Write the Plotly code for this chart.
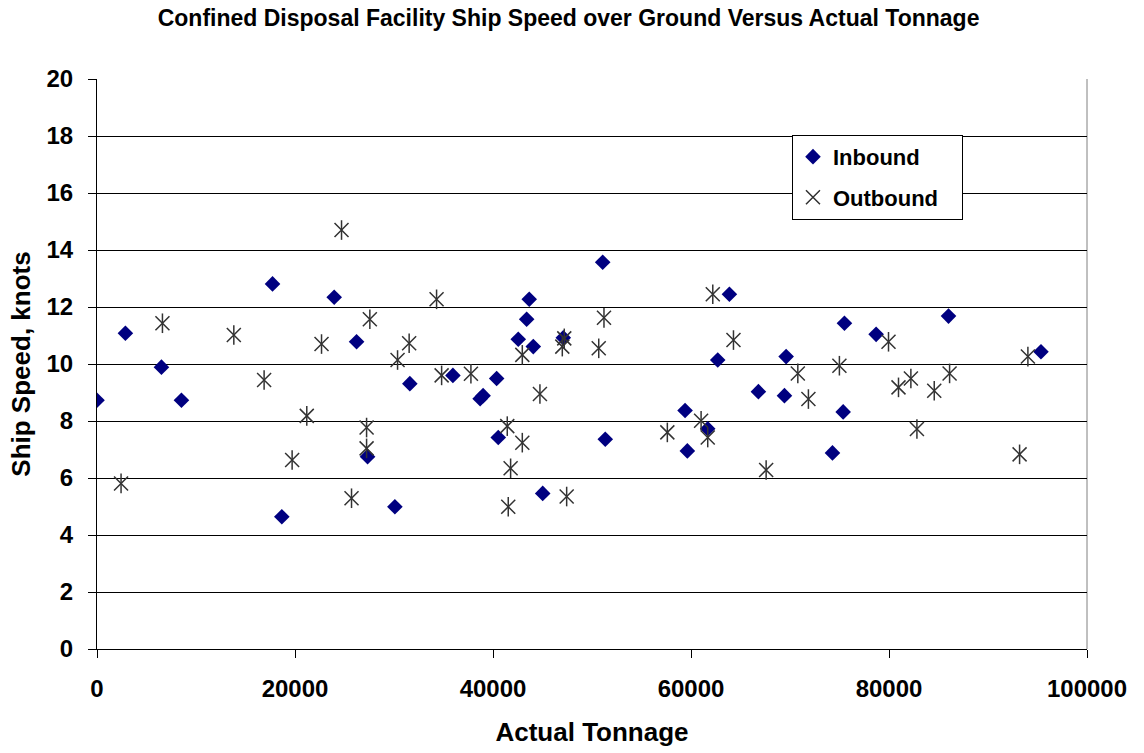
import plotly.graph_objects as go

# Inbound: actual tonnage, ship speed (knots)
inbound_tonnage = [0, 2870, 6510, 8530, 17730, 18670, 23960, 26220, 27330, 30090,
                   31600, 35950, 38700, 39000, 40370, 40530, 42550, 43400, 43660, 44070,
                   45020, 47100, 51080, 51340, 59400, 59630, 61690, 62700, 63880, 66810,
                   69440, 69610, 74290, 75370, 75500, 78700, 86010, 95350]
inbound_speed = [8.73, 11.08, 9.89, 8.73, 12.81, 4.64, 12.34, 10.78, 6.75, 4.99,
                 9.31, 9.60, 8.78, 8.89, 9.49, 7.42, 10.87, 11.57, 12.27, 10.61,
                 5.46, 10.92, 13.57, 7.36, 8.37, 6.95, 7.73, 10.14, 12.45, 9.03,
                 8.89, 10.26, 6.88, 8.32, 11.43, 11.04, 11.68, 10.43]

# Outbound: actual tonnage, ship speed (knots)
outbound_tonnage = [2430, 6610, 13820, 16880, 19710, 21190, 22680, 24700, 25710, 27230,
                    27230, 27560, 30360, 31530, 34300, 34810, 37770, 41440, 41540, 41780,
                    42960, 42960, 44740, 47000, 47200, 47440, 50680, 51210, 57610, 61020,
                    61690, 62200, 64290, 67590, 70790, 71860, 74990, 79950, 80960, 82210,
                    82820, 84570, 86120, 93190, 94030]
outbound_speed = [5.81, 11.43, 11.02, 9.44, 6.63, 8.18, 10.70, 14.70, 5.29, 7.77,
                  7.04, 11.57, 10.14, 10.73, 12.27, 9.60, 9.66, 7.82, 4.99, 6.34,
                  10.32, 7.24, 8.95, 10.61, 10.90, 5.35, 10.55, 11.62, 7.60, 8.01,
                  7.42, 12.45, 10.84, 6.28, 9.67, 8.77, 9.94, 10.78, 9.18, 9.49,
                  7.72, 9.06, 9.67, 6.83, 10.26]

x_ticks = [0, 20000, 40000, 60000, 80000, 100000]
y_ticks = [0, 2, 4, 6, 8, 10, 12, 14, 16, 18, 20]

FONT = "Liberation Sans, Arial, sans-serif"
STAR = "#333333"

fig = go.Figure()
fig.add_trace(go.Scatter(
    x=inbound_tonnage, y=inbound_speed, mode="markers", name="<b>Inbound</b>",
    legendgroup="in",
    marker=dict(symbol="diamond", size=12, color="#000080", line=dict(width=0)),
))
fig.add_trace(go.Scatter(
    x=outbound_tonnage, y=outbound_speed, mode="markers",
    name="<b>Outbound</b>&nbsp;&nbsp;&nbsp;",
    legendgroup="out",
    marker=dict(symbol="x-thin-open", size=14, color=STAR, line=dict(width=1.5, color=STAR)),
))
fig.add_trace(go.Scatter(
    x=outbound_tonnage, y=outbound_speed, mode="markers", showlegend=False,
    legendgroup="out", hoverinfo="skip",
    marker=dict(symbol="line-ns-open", size=14, color=STAR, line=dict(width=1.5, color=STAR)),
))

fig.update_layout(
    width=1144, height=753,
    margin=dict(l=97, r=57, t=79, b=104),
    paper_bgcolor="white", plot_bgcolor="white",
    font=dict(family=FONT, color="black"),
    title=dict(text="<b>Confined Disposal Facility Ship Speed over Ground Versus Actual Tonnage</b>",
               x=0.497, xanchor="center", y=0.976, yanchor="middle",
               font=dict(size=23, family=FONT, color="black")),
    showlegend=True,
    legend=dict(x=0.702, y=0.902, xanchor="left", yanchor="top",
                bgcolor="white", bordercolor="black", borderwidth=1,
                font=dict(size=22, family=FONT, color="black"),
                tracegroupgap=9),
    shapes=[dict(type="line", xref="paper", yref="paper", x0=1, x1=1, y0=0, y1=1,
                 line=dict(color="#808080", width=1), layer="below")],
)

fig.update_xaxes(
    range=[0, 100000], tickvals=x_ticks, ticktext=[f"<b>{v}</b>" for v in x_ticks],
    showgrid=False, zeroline=False,
    showline=True, linecolor="black", linewidth=1,
    ticks="outside", ticklen=8, tickcolor="black",
    tickfont=dict(size=24, family=FONT, color="black"), ticklabelstandoff=10,
    title=dict(text="<b>Actual Tonnage</b>", font=dict(size=26, family=FONT, color="black"), standoff=22),
)
fig.update_yaxes(
    range=[0, 20], tickvals=y_ticks, ticktext=[f"<b>{v}</b>" for v in y_ticks],
    showgrid=True, gridcolor="black", gridwidth=1, zeroline=False,
    showline=True, linecolor="black", linewidth=1,
    ticks="outside", ticklen=8, tickcolor="black",
    tickfont=dict(size=24, family=FONT, color="black"), ticklabelstandoff=10,
    title=dict(text="<b>Ship Speed, knots</b>", font=dict(size=26, family=FONT, color="black"), standoff=8),
)

fig.write_html("out.html")
